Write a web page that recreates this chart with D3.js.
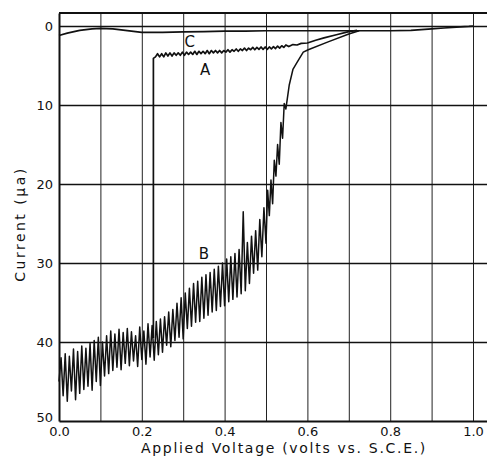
<!DOCTYPE html>
<html>
<head>
<meta charset="utf-8">
<script src="https://cdn.jsdelivr.net/npm/d3@7"></script>
<style>
  html, body { margin: 0; padding: 0; background: #fff; }
  svg { display: block; }
  text { font-family: "DejaVu Sans", sans-serif; fill: #111; }
</style>
</head>
<body>
<svg id="chart" width="487" height="460"></svg>
<script>
// ---------- data ----------
const voltageGrid = [0.1, 0.2, 0.3, 0.4, 0.5, 0.6, 0.7, 0.8, 0.9, 1.0];
const voltageTicks = [0.0, 0.2, 0.4, 0.6, 0.8, 1.0];
const voltageTickLabels = ["0.0", "0.2", "0.4", "0.6", "0.8", "1.0"];
const currentTicks = [0, 10, 20, 30, 40, 50];
const currentTickLabels = ["0", "10", "20", "30", "40", "50"];
const xTitle = "Applied Voltage (volts vs. S.C.E.)";
const yTitle = "Current (μa)";

// curve C : [volts, microamps]
const curveC = [
  [0.000, 1.2], [0.020, 0.9], [0.050, 0.55], [0.080, 0.35], [0.100, 0.3], [0.130, 0.35],
  [0.160, 0.55], [0.200, 0.8], [0.250, 0.8], [0.300, 0.75], [0.350, 0.7], [0.400, 0.65],
  [0.450, 0.65], [0.500, 0.6], [0.550, 0.6], [0.600, 0.6], [0.650, 0.6], [0.700, 0.6],
  [0.750, 0.6], [0.800, 0.6], [0.850, 0.55], [0.900, 0.35], [0.930, 0.25], [0.960, 0.15],
  [0.990, 0.05], [1.000, 0.0]
];

// curve A
const curveA = [
  [0.228, 39.5], [0.228, 4.1], [0.233, 3.9], [0.238, 3.5], [0.243, 3.9], [0.248, 3.5],
  [0.253, 3.9], [0.258, 3.4], [0.263, 3.8], [0.268, 3.4], [0.273, 3.8], [0.278, 3.4],
  [0.283, 3.7], [0.288, 3.4], [0.293, 3.7], [0.298, 3.3], [0.303, 3.7], [0.308, 3.3],
  [0.313, 3.6], [0.318, 3.3], [0.323, 3.6], [0.328, 3.2], [0.333, 3.6], [0.338, 3.2],
  [0.343, 3.5], [0.348, 3.2], [0.353, 3.5], [0.358, 3.1], [0.363, 3.5], [0.368, 3.1],
  [0.373, 3.4], [0.378, 3.1], [0.383, 3.4], [0.388, 3.1], [0.393, 3.4], [0.398, 3.1],
  [0.403, 3.3], [0.408, 3.0], [0.413, 3.3], [0.418, 3.0], [0.423, 3.2], [0.428, 2.9],
  [0.433, 3.2], [0.438, 2.9], [0.443, 3.1], [0.448, 2.8], [0.453, 3.1], [0.458, 2.8],
  [0.463, 3.0], [0.468, 2.7], [0.473, 3.0], [0.478, 2.7], [0.483, 2.95], [0.488, 2.65],
  [0.493, 2.95], [0.498, 2.65], [0.503, 2.95], [0.508, 2.65], [0.513, 2.9], [0.518, 2.6],
  [0.523, 2.85], [0.528, 2.55], [0.533, 2.8], [0.538, 2.5], [0.543, 2.7], [0.548, 2.4],
  [0.555, 2.6], [0.565, 2.35], [0.575, 2.4], [0.585, 2.2], [0.600, 2.15], [0.620, 1.8],
  [0.640, 1.5], [0.670, 1.1], [0.700, 0.7], [0.720, 0.55]
];

// curve B
const curveB = [
  [0.000, 45.0], [0.005, 42.0], [0.010, 46.8], [0.015, 41.5], [0.020, 47.5], [0.025, 41.8],
  [0.030, 46.2], [0.035, 40.9], [0.040, 47.3], [0.045, 41.2], [0.050, 46.5], [0.055, 40.5],
  [0.060, 46.0], [0.065, 40.8], [0.070, 45.6], [0.075, 40.2], [0.080, 46.1], [0.085, 39.8],
  [0.090, 45.0], [0.095, 39.4], [0.100, 45.5], [0.105, 40.0], [0.110, 44.3], [0.115, 39.2],
  [0.120, 44.0], [0.125, 38.6], [0.130, 43.6], [0.135, 39.0], [0.140, 43.2], [0.145, 38.4],
  [0.150, 43.5], [0.155, 38.8], [0.160, 42.7], [0.165, 38.3], [0.170, 43.0], [0.175, 38.7],
  [0.180, 42.4], [0.185, 39.2], [0.190, 43.1], [0.195, 38.1], [0.200, 42.2], [0.205, 38.6],
  [0.210, 42.8], [0.215, 37.7], [0.220, 41.9], [0.225, 37.9], [0.230, 42.3], [0.235, 37.4],
  [0.240, 41.6], [0.245, 37.1], [0.250, 41.3], [0.255, 36.8], [0.260, 40.4], [0.265, 36.2],
  [0.270, 40.6], [0.275, 35.9], [0.280, 39.8], [0.285, 35.1], [0.290, 39.4], [0.295, 34.4],
  [0.300, 39.6], [0.305, 33.8], [0.310, 38.3], [0.315, 33.2], [0.320, 38.0], [0.325, 32.6],
  [0.330, 37.5], [0.335, 32.3], [0.340, 37.4], [0.345, 31.8], [0.350, 37.0], [0.355, 31.5],
  [0.360, 36.6], [0.365, 31.2], [0.370, 36.2], [0.375, 30.8], [0.380, 36.0], [0.385, 30.4],
  [0.390, 35.5], [0.395, 30.0], [0.400, 35.4], [0.405, 29.5], [0.410, 34.9], [0.415, 29.2],
  [0.420, 34.6], [0.425, 28.8], [0.430, 34.3], [0.435, 28.3], [0.440, 33.9], [0.445, 23.5],
  [0.450, 33.5], [0.455, 27.4], [0.460, 32.6], [0.465, 26.6], [0.470, 31.3], [0.475, 25.9],
  [0.480, 30.9], [0.485, 24.5], [0.490, 29.2], [0.495, 23.0], [0.500, 27.5], [0.504, 20.8],
  [0.508, 24.0], [0.512, 19.5], [0.516, 22.5], [0.520, 17.0], [0.524, 19.0], [0.528, 15.0],
  [0.532, 17.5], [0.536, 12.2], [0.540, 14.2], [0.544, 9.8], [0.548, 10.5], [0.556, 7.5],
  [0.565, 5.5], [0.575, 4.6], [0.590, 3.3], [0.602, 3.0], [0.650, 2.0], [0.700, 1.0],
  [0.725, 0.6]
];

// curve labels: [text, volts, microamps at baseline]
const curveLabels = [["C", 0.316, 2.7], ["A", 0.353, 6.2], ["B", 0.350, 29.5]];

// ---------- layout ----------
const svg = d3.select("#chart");
const plotLeft = 59, plotRight = 487, plotTop = 13, plotBottom = 421;

const x = d3.scaleLinear().domain([0, 1.0338]).range([plotLeft, plotRight]);
const y = d3.scaleLinear().domain([-1.65, 50]).range([plotTop, plotBottom]);

// vertical grid lines
svg.append("g")
  .attr("transform", `translate(0,${plotBottom})`)
  .call(d3.axisBottom(x).tickValues(voltageGrid).tickSize(-(plotBottom - plotTop)).tickFormat(""))
  .call(g => g.select(".domain").remove())
  .call(g => g.selectAll(".tick line").attr("stroke", "#222").attr("stroke-width", 1));

// horizontal grid lines
svg.append("g")
  .attr("transform", `translate(${plotLeft},0)`)
  .call(d3.axisLeft(y).tickValues(currentTicks.slice(0, 5)).tickSize(-(plotRight - plotLeft)).tickFormat(""))
  .call(g => g.select(".domain").remove())
  .call(g => g.selectAll(".tick line").attr("stroke", "#111").attr("stroke-width", 1.4));

// top frame line
svg.append("line")
  .attr("x1", plotLeft).attr("x2", plotRight)
  .attr("y1", y.range()[0]).attr("y2", y.range()[0])
  .attr("stroke", "#111").attr("stroke-width", 2);

// x axis
svg.append("g")
  .attr("transform", `translate(0,${plotBottom})`)
  .call(d3.axisBottom(x).tickValues(voltageTicks).tickSize(0).tickPadding(6)
    .tickFormat((d, i) => voltageTickLabels[i]))
  .call(g => g.select(".domain").attr("stroke", "#111").attr("stroke-width", 2))
  .call(g => g.selectAll("text").attr("font-size", 13).attr("font-family", "DejaVu Sans").attr("fill", "#111"));

// y axis
svg.append("g")
  .attr("transform", `translate(${plotLeft},0)`)
  .call(d3.axisLeft(y).tickValues(currentTicks).tickSize(0).tickPadding(6)
    .tickFormat((d, i) => currentTickLabels[i]))
  .call(g => g.select(".domain").attr("stroke", "#111").attr("stroke-width", 2))
  .call(g => g.selectAll("text").attr("font-size", 13).attr("font-family", "DejaVu Sans").attr("fill", "#111"))
  .call(g => g.selectAll(".tick").filter(d => d === 50).select("text").attr("dy", "0.0em"));

// curves
const line = d3.line().x(d => x(d[0])).y(d => y(d[1]));
[[curveC, 1.7], [curveA, 1.7], [curveB, 1.5]].forEach(([data, w]) => {
  svg.append("path").datum(data).attr("d", line)
    .attr("fill", "none").attr("stroke", "#111").attr("stroke-width", w)
    .attr("stroke-linejoin", "round");
});

// curve labels
svg.selectAll(".clabel").data(curveLabels).enter().append("text")
  .attr("class", "clabel")
  .attr("x", d => x(d[1])).attr("y", d => y(d[2]))
  .attr("text-anchor", "middle").attr("font-size", 15)
  .text(d => d[0]);

// axis titles
svg.append("text")
  .attr("x", 284).attr("y", 453)
  .attr("text-anchor", "middle").attr("font-size", 14).attr("letter-spacing", "1.7px")
  .text(xTitle);

svg.append("text")
  .attr("transform", "translate(25,224) rotate(-90)")
  .attr("text-anchor", "middle").attr("font-size", 14).attr("letter-spacing", "2.5px")
  .text(yTitle);
</script>
</body>
</html>
